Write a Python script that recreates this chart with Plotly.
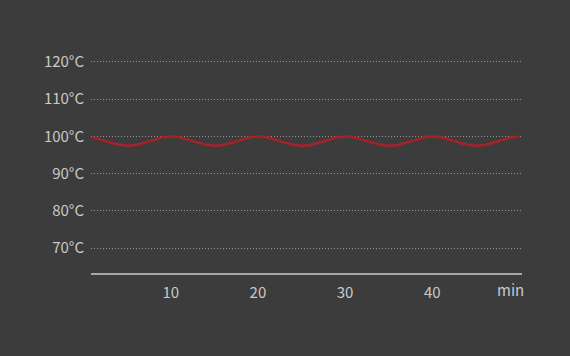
import plotly.graph_objects as go

minutes = list(range(1, 51))
temps = [
    99.8, 99.1, 98.4, 97.8, 97.5, 97.7, 98.3, 99.0, 99.7, 100.0,
    99.8, 99.1, 98.4, 97.8, 97.5, 97.7, 98.3, 99.0, 99.7, 100.0,
    99.8, 99.1, 98.4, 97.8, 97.5, 97.7, 98.3, 99.0, 99.7, 100.0,
    99.8, 99.1, 98.4, 97.8, 97.5, 97.7, 98.3, 99.0, 99.7, 100.0,
    99.8, 99.1, 98.4, 97.8, 97.5, 97.7, 98.3, 99.0, 99.7, 100.0,
]
x_ticks = [10, 20, 30, 40]
y_ticks = [70, 80, 90, 100, 110, 120]
y_labels = [f"{v}°C" for v in y_ticks]

bg = "#3c3c3c"
txt = "#c9c9c9"
L, R, T, B = 91, 48, 40, 83
W, H = 570, 356

fig = go.Figure()
fig.add_trace(go.Scatter(
    x=minutes, y=temps, mode="lines",
    line=dict(color="#a6222a", width=2.5, shape="spline"),
    hoverinfo="skip", showlegend=False,
))

pw = W - L - R
ph = H - T - B

fig.update_layout(
    width=W, height=H,
    paper_bgcolor=bg, plot_bgcolor=bg,
    margin=dict(l=L, r=R, t=T, b=B, pad=0),
    font=dict(family="Noto Sans CJK SC, Noto Sans, sans-serif", size=15, color=txt),
    xaxis=dict(
        range=[0.85, 50.3], tickvals=x_ticks, ticks="", showgrid=False,
        showline=True, linecolor="#a8a8a8", linewidth=1.5,
        zeroline=False, ticklabelstandoff=5,
    ),
    yaxis=dict(
        range=[63.3, 125.9], tickvals=y_ticks, ticktext=y_labels, ticks="",
        showgrid=True, gridcolor="#939393", gridwidth=1, griddash="1px,2px",
        showline=False, zeroline=False, ticklabelstandoff=6,
    ),
    annotations=[dict(
        text="min", xref="paper", yref="paper",
        x=(510 - L) / pw, y=(H - B - 289) / ph,
        xanchor="center", yanchor="middle",
        showarrow=False, font=dict(size=15, color=txt),
    )],
)

fig.write_html("out.html", config={"displayModeBar": False},
               post_script="document.body.style.margin='0';")
